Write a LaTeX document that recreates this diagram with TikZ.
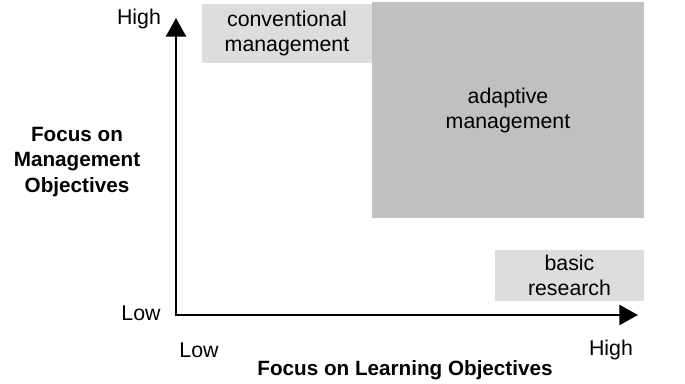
\documentclass[tikz,border=0pt]{standalone}
\usepackage{fontspec}
\setmainfont{Liberation Sans}
\usetikzlibrary{arrows.meta}
\definecolor{lightbox}{RGB}{221,221,221}
\definecolor{darkbox}{RGB}{192,192,192}

\begin{document}
\begin{tikzpicture}[x=0.75pt,y=-0.75pt,font=\fontsize{16}{18.75}\selectfont]
  \tikzstyle{area}=[rectangle,inner sep=0pt,align=center]
  \tikzstyle{axis}=[line width=1.8pt,{Triangle[length=14pt,width=15pt]}-{Triangle[length=14pt,width=15pt]}]
  \tikzstyle{title}=[align=center,font=\fontsize{15.5}{19}\selectfont\bfseries]
  \useasboundingbox (0,0) rectangle (685,384);

  \node [area,fill=lightbox,minimum width=127.5pt,minimum height=44.25pt] (conv) at (287,33.5) {conventional\\management};
  \node [area,fill=darkbox,minimum width=204pt,minimum height=162pt] (adapt) at (508,110) {adaptive\\management};
  \node [area,fill=lightbox,minimum width=111.75pt,minimum height=38.25pt] (basic) at (569.5,275.5) {basic\\research};

  \coordinate (O) at (176,315);
  \coordinate (ytip) at (176,18);
  \coordinate (xtip) at (638,315);
  \draw [axis] (ytip) -- (O) -- (xtip);

  \node (yhigh) at (139,19) {High};
  \node (ylow) at (141,313) {Low};
  \node (xlow) at (199,350) {Low};
  \node (xhigh) at (611,350) {High};
  \node [title] (xtitle) at (405,370) {Focus on Learning Objectives};
  \node [title] (ytitle) at (77,162) {Focus on\\Management\\Objectives};
\end{tikzpicture}
\end{document}
